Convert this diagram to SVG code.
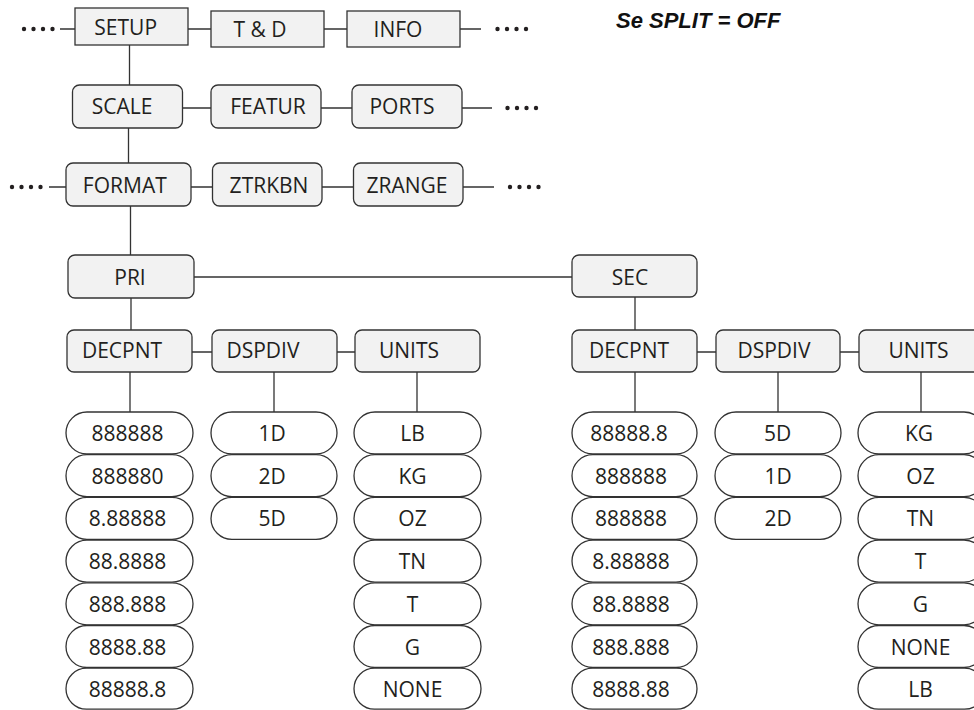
<svg xmlns="http://www.w3.org/2000/svg" width="974" height="710" viewBox="0 0 974 710">
<style>
.box{fill:#f2f2f2;stroke:#333;stroke-width:1.3}
.pill{fill:#fff;stroke:#333;stroke-width:1.3}
.t{font-family:"Open Sans","Noto Sans",sans-serif;font-size:21px;fill:#231f20;text-anchor:middle}
.ln{stroke:#333;stroke-width:1.3;fill:none}
.dot{fill:#231f20}
.title{font-family:"Liberation Sans",Arial,sans-serif;font-size:22px;font-weight:bold;font-style:italic;fill:#111}
</style>
<rect width="974" height="710" fill="#fff"/>
<text class="title" x="616" y="28">Se SPLIT = OFF</text>
<g id="connectors">
<path class="ln" d="M60 29H75M188 29H211M324 29H347M460 29H481"/>
<path class="ln" d="M129.5 45V85M182.5 108H211M321 108H352M462 108H492"/>
<path class="ln" d="M128.5 128V163M49 187H66M191 187H212.5M322 187H353.5M463 187H494"/>
<path class="ln" d="M130.5 206V255M194 277H572M131 298V330M192 352H212M337 352H355"/>
<path class="ln" d="M130 372V412M274 372V412M417 372V412"/>
<path class="ln" d="M635 297V330M697 352H716M840 352H859M635 372V412M778 372V412M921 372V412"/>
<g class="dot">
<circle cx="24" cy="29" r="2.2"/><circle cx="33.5" cy="29" r="2.2"/><circle cx="43" cy="29" r="2.2"/><circle cx="52.5" cy="29" r="2.2"/>
<circle cx="497.5" cy="29" r="2.2"/><circle cx="507" cy="29" r="2.2"/><circle cx="516.5" cy="29" r="2.2"/><circle cx="526" cy="29" r="2.2"/>
<circle cx="507.5" cy="108" r="2.2"/><circle cx="517" cy="108" r="2.2"/><circle cx="526.5" cy="108" r="2.2"/><circle cx="536" cy="108" r="2.2"/>
<circle cx="12" cy="187" r="2.2"/><circle cx="21.5" cy="187" r="2.2"/><circle cx="31" cy="187" r="2.2"/><circle cx="40.5" cy="187" r="2.2"/>
<circle cx="510" cy="187" r="2.2"/><circle cx="519.5" cy="187" r="2.2"/><circle cx="529" cy="187" r="2.2"/><circle cx="538.5" cy="187" r="2.2"/>
</g>
</g>
<g id="setup"><rect class="box" x="75" y="8" width="113" height="37"/><text class="t" x="125.7" y="35">SETUP</text></g>
<g id="td"><rect class="box" x="211" y="11" width="113" height="36"/><text class="t" x="260" y="37">T &amp; D</text></g>
<g id="info"><rect class="box" x="347" y="11" width="113" height="36"/><text class="t" x="398" y="37">INFO</text></g>
<g id="scale"><rect class="box" x="72.5" y="85" width="110" height="43" rx="7"/><text class="t" x="122" y="114">SCALE</text></g>
<g id="featur"><rect class="box" x="211" y="85" width="110" height="43" rx="7"/><text class="t" x="268" y="114">FEATUR</text></g>
<g id="ports"><rect class="box" x="352" y="85" width="110" height="43" rx="7"/><text class="t" x="402" y="114">PORTS</text></g>
<g id="format"><rect class="box" x="66" y="163" width="125" height="43" rx="7"/><text class="t" x="124.8" y="193">FORMAT</text></g>
<g id="ztrkbn"><rect class="box" x="212.5" y="163" width="109.5" height="43" rx="7"/><text class="t" x="269" y="193">ZTRKBN</text></g>
<g id="zrange"><rect class="box" x="353.5" y="163" width="109.5" height="43" rx="7"/><text class="t" x="407" y="193">ZRANGE</text></g>
<g id="pri"><rect class="box" x="68" y="255" width="126" height="43" rx="7"/><text class="t" x="130" y="285">PRI</text></g>
<g id="sec"><rect class="box" x="572" y="255" width="125" height="42" rx="7"/><text class="t" x="630" y="285">SEC</text></g>
<g id="pri-decpnt"><rect class="box" x="67" y="330" width="125" height="42" rx="7"/><text class="t" x="122" y="358">DECPNT</text></g>
<g id="pri-dspdiv"><rect class="box" x="212" y="330" width="125" height="42" rx="7"/><text class="t" x="263" y="358">DSPDIV</text></g>
<g id="pri-units"><rect class="box" x="355" y="330" width="125" height="42" rx="7"/><text class="t" x="409" y="358">UNITS</text></g>
<g id="sec-decpnt"><rect class="box" x="572" y="330" width="125" height="42" rx="7"/><text class="t" x="629" y="358">DECPNT</text></g>
<g id="sec-dspdiv"><rect class="box" x="716" y="330" width="124" height="42" rx="7"/><text class="t" x="774" y="358">DSPDIV</text></g>
<g id="sec-units"><rect class="box" x="859" y="330" width="125" height="42" rx="7"/><text class="t" x="918.5" y="358">UNITS</text></g>
<g id="pri-decpnt-opts">
<rect class="pill" x="66" y="412" width="127" height="42" rx="21"/><text class="t" x="127.5" y="441">888888</text>
<rect class="pill" x="66" y="454.7" width="127" height="42" rx="21"/><text class="t" x="127.5" y="483.7">888880</text>
<rect class="pill" x="66" y="497.4" width="127" height="42" rx="21"/><text class="t" x="127.5" y="526.4">8.88888</text>
<rect class="pill" x="66" y="540.1" width="127" height="42" rx="21"/><text class="t" x="127.5" y="569.1">88.8888</text>
<rect class="pill" x="66" y="582.8" width="127" height="42" rx="21"/><text class="t" x="127.5" y="611.8">888.888</text>
<rect class="pill" x="66" y="625.5" width="127" height="42" rx="21"/><text class="t" x="127.5" y="654.5">8888.88</text>
<rect class="pill" x="66" y="668.2" width="127" height="41" rx="20.5"/><text class="t" x="127.5" y="697.2">88888.8</text>
</g>
<g id="pri-dspdiv-opts">
<rect class="pill" x="211" y="412" width="126" height="42" rx="21"/><text class="t" x="272" y="441">1D</text>
<rect class="pill" x="211" y="454.7" width="126" height="42" rx="21"/><text class="t" x="272" y="483.7">2D</text>
<rect class="pill" x="211" y="497.4" width="126" height="42" rx="21"/><text class="t" x="272" y="526.4">5D</text>
</g>
<g id="pri-units-opts">
<rect class="pill" x="354" y="412" width="127" height="42" rx="21"/><text class="t" x="412.5" y="441">LB</text>
<rect class="pill" x="354" y="454.7" width="127" height="42" rx="21"/><text class="t" x="412.5" y="483.7">KG</text>
<rect class="pill" x="354" y="497.4" width="127" height="42" rx="21"/><text class="t" x="412.5" y="526.4">OZ</text>
<rect class="pill" x="354" y="540.1" width="127" height="42" rx="21"/><text class="t" x="412.5" y="569.1">TN</text>
<rect class="pill" x="354" y="582.8" width="127" height="42" rx="21"/><text class="t" x="412.5" y="611.8">T</text>
<rect class="pill" x="354" y="625.5" width="127" height="42" rx="21"/><text class="t" x="412.5" y="654.5">G</text>
<rect class="pill" x="354" y="668.2" width="127" height="41" rx="20.5"/><text class="t" x="412.5" y="697.2">NONE</text>
</g>
<g id="sec-decpnt-opts">
<rect class="pill" x="572" y="412" width="125" height="42" rx="21"/><text class="t" x="629" y="441">88888.8</text>
<rect class="pill" x="572" y="454.7" width="125" height="42" rx="21"/><text class="t" x="631" y="483.7">888888</text>
<rect class="pill" x="572" y="497.4" width="125" height="42" rx="21"/><text class="t" x="631" y="526.4">888888</text>
<rect class="pill" x="572" y="540.1" width="125" height="42" rx="21"/><text class="t" x="631" y="569.1">8.88888</text>
<rect class="pill" x="572" y="582.8" width="125" height="42" rx="21"/><text class="t" x="631" y="611.8">88.8888</text>
<rect class="pill" x="572" y="625.5" width="125" height="42" rx="21"/><text class="t" x="631" y="654.5">888.888</text>
<rect class="pill" x="572" y="668.2" width="125" height="41" rx="20.5"/><text class="t" x="631" y="697.2">8888.88</text>
</g>
<g id="sec-dspdiv-opts">
<rect class="pill" x="715" y="412" width="126" height="42" rx="21"/><text class="t" x="777.5" y="441">5D</text>
<rect class="pill" x="715" y="454.7" width="126" height="42" rx="21"/><text class="t" x="778" y="483.7">1D</text>
<rect class="pill" x="715" y="497.4" width="126" height="42" rx="21"/><text class="t" x="778" y="526.4">2D</text>
</g>
<g id="sec-units-opts">
<rect class="pill" x="858" y="412" width="127" height="42" rx="21"/><text class="t" x="919" y="441">KG</text>
<rect class="pill" x="858" y="454.7" width="127" height="42" rx="21"/><text class="t" x="920.5" y="483.7">OZ</text>
<rect class="pill" x="858" y="497.4" width="127" height="42" rx="21"/><text class="t" x="920.5" y="526.4">TN</text>
<rect class="pill" x="858" y="540.1" width="127" height="42" rx="21"/><text class="t" x="920.5" y="569.1">T</text>
<rect class="pill" x="858" y="582.8" width="127" height="42" rx="21"/><text class="t" x="920.5" y="611.8">G</text>
<rect class="pill" x="858" y="625.5" width="127" height="42" rx="21"/><text class="t" x="920.5" y="654.5">NONE</text>
<rect class="pill" x="858" y="668.2" width="127" height="41" rx="20.5"/><text class="t" x="920.5" y="697.2">LB</text>
</g>
</svg>
